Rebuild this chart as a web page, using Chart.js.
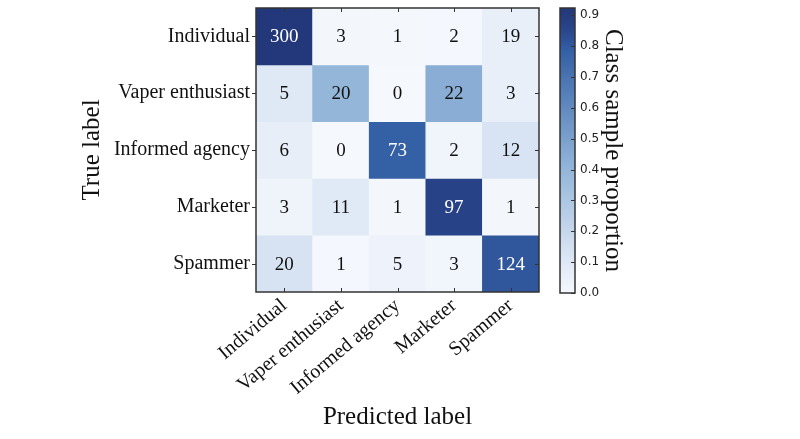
<!DOCTYPE html>
<html>
<head>
<meta charset="utf-8">
<script src="https://cdn.jsdelivr.net/npm/chart.js@4.4.1/dist/chart.umd.min.js"></script>
<style>
    html, body { margin: 0; padding: 0; background: #fff; }
    #wrap { position: relative; width: 800px; height: 439px; }
    #heatCanvas { position: absolute; left: 0; top: 0; }
    #barCanvas { position: absolute; left: 545px; top: 0; }
</style>
</head>
<body>
<div id="wrap">
    <canvas id="heatCanvas" width="545" height="439"></canvas>
    <canvas id="barCanvas" width="255" height="439"></canvas>
</div>
<script>
const classLabels = ['Individual', 'Vaper enthusiast', 'Informed agency', 'Marketer', 'Spammer'];

// confusion matrix rows (true label), columns (predicted label)
const individualRow = [300, 3, 1, 2, 19];
const vaperRow = [5, 20, 0, 22, 3];
const informedRow = [6, 0, 73, 2, 12];
const marketerRow = [3, 11, 1, 97, 1];
const spammerRow = [20, 1, 5, 3, 124];
const matrixRows = [individualRow, vaperRow, informedRow, marketerRow, spammerRow];

const colorbarTicks = [0.0, 0.1, 0.2, 0.3, 0.4, 0.5, 0.6, 0.7, 0.8, 0.9];

// row-normalised proportions
const proportions = matrixRows.map(row => {
    const total = row.reduce((a, b) => a + b, 0);
    return row.map(v => v / total);
});
const vmax = Math.max(...proportions.flat());

// faded "Blues" colour map as it appears in the picture
const cmapStops = [
    [0.0, [245, 248, 253]],
    [0.1, [225, 234, 246]],
    [0.45, [143, 179, 216]],
    [0.85, [52, 96, 166]],
    [0.93, [40, 66, 135]],
    [1.0, [35, 56, 122]]
];

function cmap(t) {
    t = Math.max(0, Math.min(1, t));
    for (let i = 1; i < cmapStops.length; i++) {
        const [t1, c1] = cmapStops[i];
        const [t0, c0] = cmapStops[i - 1];
        if (t <= t1) {
            const f = (t - t0) / (t1 - t0);
            const c = c0.map((v, k) => Math.round(v + (c1[k] - v) * f));
            return `rgb(${c[0]}, ${c[1]}, ${c[2]})`;
        }
    }
    const c = cmapStops[cmapStops.length - 1][1];
    return `rgb(${c[0]}, ${c[1]}, ${c[2]})`;
}

const serif = "'Liberation Serif', 'Times New Roman', serif";
const frameColor = '#333';

// keep the plot area exactly where the picture has it
function noLabelPadding(scale) {
    scale.paddingTop = 0;
    scale.paddingBottom = 0;
    scale.paddingLeft = 0;
    scale.paddingRight = 0;
}

// one dataset per true-label row, each cell a floating bar [r-0.5, r+0.5]
const heatDatasets = matrixRows.map((row, r) => ({
    label: classLabels[r],
    data: row.map(() => [r - 0.5, r + 0.5]),
    backgroundColor: proportions[r].map(p => cmap(p / vmax)),
    borderWidth: 0,
    barPercentage: 1,
    categoryPercentage: 1,
    grouped: false
}));

const cellTextPlugin = {
    id: 'cellText',
    afterDatasetsDraw(chart) {
        const ctx = chart.ctx;
        ctx.save();
        ctx.font = `19px ${serif}`;
        ctx.textAlign = 'center';
        ctx.textBaseline = 'middle';
        chart.data.datasets.forEach((ds, r) => {
            chart.getDatasetMeta(r).data.forEach((bar, c) => {
                const p = proportions[r][c] / vmax;
                ctx.fillStyle = p > 0.5 ? '#fff' : '#111';
                ctx.fillText(String(matrixRows[r][c]), bar.x, (bar.y + bar.base) / 2 + 1);
            });
        });
        ctx.restore();
    },
    afterDraw(chart) {
        const { ctx, chartArea: a, scales } = chart;
        ctx.save();
        ctx.strokeStyle = frameColor;
        ctx.lineWidth = 1;
        ctx.beginPath();
        scales.x.ticks.forEach((t, i) => {
            const x = Math.round(scales.x.getPixelForTick(i)) + 0.5;
            ctx.moveTo(x, a.top); ctx.lineTo(x, a.top + 4);
            ctx.moveTo(x, a.bottom); ctx.lineTo(x, a.bottom - 4);
        });
        scales.y.ticks.forEach((t, i) => {
            const y = Math.round(scales.y.getPixelForTick(i)) + 0.5;
            ctx.moveTo(a.left - 4, y); ctx.lineTo(a.left, y);
            ctx.moveTo(a.right, y); ctx.lineTo(a.right - 4, y);
        });
        ctx.stroke();
        ctx.lineWidth = 1.5;
        ctx.strokeRect(a.left, a.top, a.right - a.left, a.bottom - a.top);
        ctx.restore();
    }
};

new Chart(document.getElementById('heatCanvas').getContext('2d'), {
    type: 'bar',
    data: { labels: classLabels, datasets: heatDatasets },
    options: {
        responsive: false,
        animation: false,
        layout: { padding: { top: 8, right: 6, left: 0, bottom: 0 } },
        plugins: { legend: { display: false }, tooltip: { enabled: false } },
        scales: {
            x: {
                grid: { display: false, drawTicks: false },
                border: { display: false },
                ticks: {
                    autoSkip: false,
                    minRotation: 40,
                    maxRotation: 40,
                    padding: 2,
                    color: '#111',
                    font: { family: serif, size: 20 }
                },
                title: {
                    display: true,
                    text: 'Predicted label',
                    color: '#111',
                    font: { family: serif, size: 25 },
                    padding: { top: 0, bottom: 7 }
                },
                afterFit: scale => { scale.height = 147; noLabelPadding(scale); }
            },
            y: {
                type: 'linear',
                min: -0.5,
                max: 4.5,
                reverse: true,
                grid: { display: false, drawTicks: false },
                border: { display: false },
                afterBuildTicks: scale => {
                    scale.ticks = classLabels.map((_, i) => ({ value: i }));
                },
                ticks: {
                    padding: 6,
                    color: '#111',
                    font: { family: serif, size: 20 },
                    callback: v => classLabels[v]
                },
                title: {
                    display: true,
                    text: 'True label',
                    color: '#111',
                    font: { family: serif, size: 25 },
                    padding: { top: 77, bottom: 0 }
                },
                afterFit: scale => { scale.width = 256; noLabelPadding(scale); }
            }
        }
    },
    plugins: [cellTextPlugin]
});

// colour bar
const colorbarPlugin = {
    id: 'colorbarFrame',
    afterDraw(chart) {
        const { ctx, chartArea: a, scales } = chart;
        ctx.save();
        ctx.strokeStyle = frameColor;
        ctx.lineWidth = 1;
        ctx.beginPath();
        scales.y.ticks.forEach((t, i) => {
            const y = Math.round(scales.y.getPixelForTick(i)) + 0.5;
            ctx.moveTo(a.right, y); ctx.lineTo(a.right - 4, y);
        });
        ctx.stroke();
        ctx.lineWidth = 1.5;
        ctx.strokeRect(a.left, a.top, a.right - a.left, a.bottom - a.top);
        ctx.restore();
    }
};

new Chart(document.getElementById('barCanvas').getContext('2d'), {
    type: 'bar',
    data: {
        labels: ['proportion'],
        datasets: [{
            data: [[0, vmax]],
            backgroundColor: context => {
                const area = context.chart.chartArea;
                if (!area) return cmap(0.5);
                const g = context.chart.ctx.createLinearGradient(0, area.bottom, 0, area.top);
                for (let i = 0; i <= 20; i++) g.addColorStop(i / 20, cmap(i / 20));
                return g;
            },
            borderWidth: 0,
            barPercentage: 1,
            categoryPercentage: 1
        }]
    },
    options: {
        responsive: false,
        animation: false,
        layout: { padding: { top: 8, left: 15, right: 0, bottom: 146 } },
        plugins: { legend: { display: false }, tooltip: { enabled: false } },
        scales: {
            x: { display: false },
            y: {
                position: 'right',
                min: 0,
                max: vmax,
                grid: { display: false, drawTicks: false },
                border: { display: false },
                afterBuildTicks: scale => {
                    scale.ticks = colorbarTicks.map(v => ({ value: v }));
                },
                ticks: {
                    padding: 5,
                    color: '#222',
                    font: { family: "'DejaVu Sans', sans-serif", size: 12 },
                    callback: v => v.toFixed(1)
                },
                title: {
                    display: true,
                    text: 'Class sample proportion',
                    color: '#111',
                    font: { family: serif, size: 25 },
                    padding: { top: 172, bottom: 0 }
                },
                afterFit: scale => { scale.width = 225; noLabelPadding(scale); }
            }
        }
    },
    plugins: [colorbarPlugin]
});
</script>
</body>
</html>
